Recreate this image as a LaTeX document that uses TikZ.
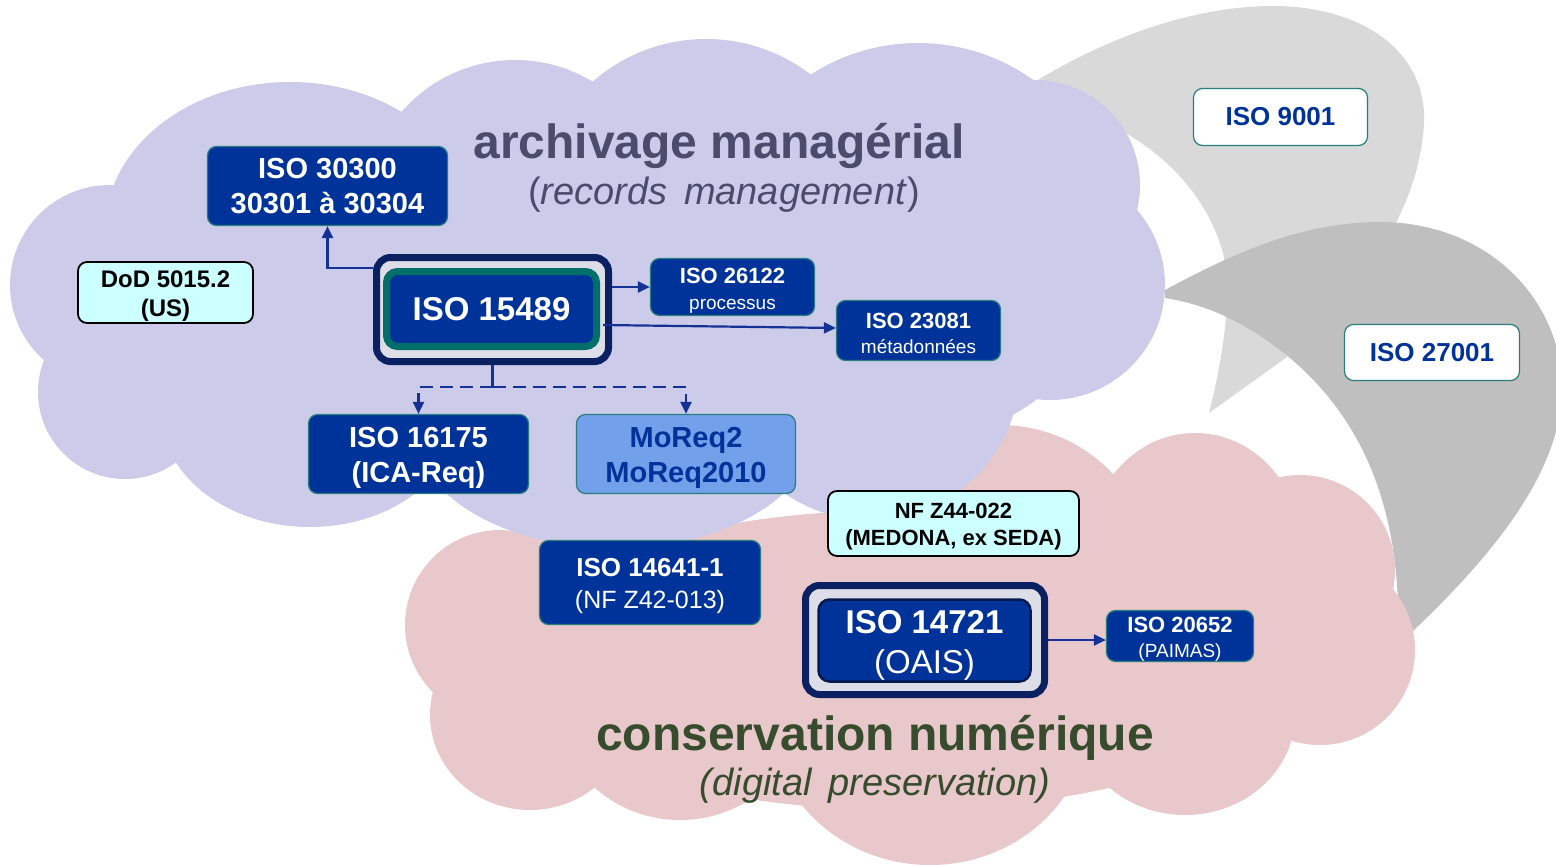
\documentclass[tikz,border=0pt]{standalone}
\usepackage{fontspec}
\setmainfont{Liberation Sans}
\usetikzlibrary{positioning,arrows,arrows.meta}

\definecolor{cloudpurple}{RGB}{204,204,234}
\definecolor{cloudpink}{RGB}{232,200,202}
\definecolor{greylight}{RGB}{217,217,217}
\definecolor{greydark}{RGB}{191,191,191}
\definecolor{isoblue}{RGB}{0,51,153}
\definecolor{isoteal}{RGB}{40,125,125}
\definecolor{framenavy}{RGB}{10,32,96}
\definecolor{framegrey}{RGB}{222,222,232}
\definecolor{coreteal}{RGB}{0,110,105}
\definecolor{palecyan}{RGB}{204,255,255}
\definecolor{moreqblue}{RGB}{115,160,235}
\definecolor{titlegrey}{RGB}{75,75,110}
\definecolor{titlegreen}{RGB}{55,75,45}
\definecolor{linkblue}{RGB}{20,50,150}
\newcommand{\topstrut}{\rule{0pt}{1em}}

\begin{document}
\begin{tikzpicture}[x=1pt, y=-1pt,
  isobox/.style={draw=isoteal, line width=1.2pt, fill=isoblue, text=white,
    rounded corners=9pt, inner sep=0pt, align=center},
  cyanbox/.style={draw=black, line width=1.8pt, fill=palecyan, text=black,
    rounded corners=9pt, inner sep=0pt, align=center},
  whitebox/.style={draw=isoteal, line width=1.2pt, fill=white, text=isoblue,
    rounded corners=9pt, inner sep=0pt, font=\bfseries\fontsize{26}{30}\selectfont},
  framebox/.style={draw=framenavy, line width=7pt, fill=framegrey,
    rounded corners=14pt, inner sep=0pt},
  link/.style={draw=linkblue, line width=2.2pt, -{Triangle[length=12pt,width=11pt]}}
]
\useasboundingbox (0,0) rectangle (1556,865);

% grey bubbles behind
\fill[greylight] (1025,88) .. controls (1100,40) and (1190,6) .. (1273,6)
  .. controls (1360,6) and (1428,50) .. (1424,125)
  .. controls (1420,175) and (1405,205) .. (1390,235) -- (1287,357) -- (1209,413)
  .. controls (1225,350) and (1232,290) .. (1223,253)
  .. controls (1200,170) and (1120,115) .. (1035,100) -- cycle;
\fill[greydark] (1165,290) .. controls (1230,255) and (1300,222) .. (1380,222)
  .. controls (1480,222) and (1556,290) .. (1562,380)
  .. controls (1566,470) and (1490,560) .. (1398,645)
  .. controls (1402,530) and (1375,430) .. (1290,358)
  .. controls (1250,325) and (1210,305) .. (1165,298) -- cycle;

% conservation numerique cloud
\foreach \cx/\cy/\rx/\ry in {1195/545/105pt/112pt, 1000/580/155pt/155pt,
    1300/570/95pt/95pt, 1320/650/95pt/95pt, 1185/715/110pt/100pt,
    930/715/160pt/150pt, 680/700/125pt/120pt, 530/715/100pt/95pt,
    500/625/95pt/95pt, 610/600/120pt/110pt, 900/660/400pt/150pt}
  \fill[cloudpink] (\cx,\cy) ellipse[x radius=\rx, y radius=\ry];

% archivage managerial cloud
\foreach \cx/\cy/\rx/\ry in {110/285/100pt/100pt, 125/392/87pt/87pt,
    310/410/150pt/117pt, 615/430/200pt/118pt, 870/370/150pt/150pt,
    1050/285/115pt/115pt, 1035/185/105pt/105pt, 918/241/198pt/198pt,
    706/211/172pt/172pt, 515/210/150pt/150pt, 290/230/185pt/148pt,
    600/300/460pt/190pt}
  \fill[cloudpurple] (\cx,\cy) ellipse[x radius=\rx, y radius=\ry];

% titles
\node[anchor=base, text=titlegrey, font=\bfseries\fontsize{48}{58}\selectfont]
  (rmtitle) at (719,158) {archivage managérial};
\node[anchor=base, text=titlegrey, font=\fontsize{38}{46}\selectfont]
  (rmsub) at (724,204) {(\textit{records\hspace{6pt} management})};
\node[anchor=base, text=titlegreen, font=\bfseries\fontsize{48}{58}\selectfont]
  (dptitle) at (875,750) {conservation numérique};
\node[anchor=base, text=titlegreen, font=\itshape\fontsize{38}{46}\selectfont]
  (dpsub) at (875,795) {(digital\hspace{6pt} preservation)};

% records management boxes
\node[isobox, minimum width=240pt, minimum height=79pt,
  font=\bfseries\fontsize{29}{35}\selectfont] (iso30300) at (327.5,186)
  {ISO 30300\\30301 à 30304};
\node[cyanbox, minimum width=175pt, minimum height=61pt,
  font=\bfseries\fontsize{24}{29}\selectfont] (dod) at (165.5,292.5)
  {\topstrut DoD 5015.2\\(US)};
\node[framebox, minimum width=232pt, minimum height=104pt] (iso15489) at (492.5,309.5) {};
\node[draw=coreteal, line width=7pt, fill=isoblue, rounded corners=11pt,
  minimum width=210pt, minimum height=75pt, inner sep=0pt, text=white,
  font=\bfseries\fontsize{33}{40}\selectfont] (iso15489core) at (491.5,309) {ISO 15489};
\node[isobox, minimum width=164pt, minimum height=57pt,
  font=\fontsize{22}{26}\selectfont] (iso26122) at (732.5,287)
  {\topstrut\textbf{ISO 26122}\\{\fontsize{19}{23}\selectfont processus}};
\node[isobox, minimum width=164pt, minimum height=60pt,
  font=\fontsize{22}{25}\selectfont] (iso23081) at (918.5,330.5)
  {\topstrut\textbf{ISO 23081}\\{\fontsize{19}{23}\selectfont métadonnées}};
\node[isobox, minimum width=220pt, minimum height=79pt,
  font=\bfseries\fontsize{29}{35}\selectfont] (iso16175) at (418.5,454)
  {\topstrut ISO 16175\\(ICA-Req)};
\node[isobox, fill=moreqblue, text=isoblue, minimum width=219pt, minimum height=79pt,
  font=\bfseries\fontsize{29}{35}\selectfont] (moreq) at (686,454)
  {\topstrut MoReq2\\MoReq2010};

% digital preservation boxes
\node[cyanbox, minimum width=251pt, minimum height=65pt,
  font=\bfseries\fontsize{22}{27}\selectfont] (nfz44) at (953.5,523.5)
  {\topstrut NF Z44-022\\(MEDONA, ex SEDA)};
\node[isobox, minimum width=221pt, minimum height=84pt,
  font=\fontsize{26}{32}\selectfont] (iso14641) at (650,582.5)
  {\topstrut\textbf{ISO 14641-1}\\{\fontsize{25}{30}\selectfont (NF Z42-013)}};
\node[framebox, minimum width=239pt, minimum height=109pt] (iso14721) at (925,640) {};
\node[draw=framenavy!80!black, line width=2.5pt, fill=isoblue, rounded corners=11pt,
  minimum width=212pt, minimum height=82pt, inner sep=0pt, text=white, align=center,
  font=\fontsize{33}{40}\selectfont] (iso14721core) at (924.5,640.5)
  {\topstrut\textbf{ISO 14721}\\(OAIS)};
\node[isobox, minimum width=147pt, minimum height=47pt,
  font=\fontsize{22}{25}\selectfont] (iso20652) at (1180,636)
  {\topstrut\textbf{ISO 20652}\\{\fontsize{19}{22}\selectfont (PAIMAS)}};

% grey bubbles
\node[whitebox, minimum width=174pt, minimum height=57pt] (iso9001) at (1280.5,117) {ISO 9001};
\node[whitebox, minimum width=175pt, minimum height=56pt] (iso27001) at (1432,352.5) {ISO 27001};

% links
\draw[link] ([yshift=41.5pt]iso15489.west) -| (iso30300.south);
\draw[link] (iso15489.east |- iso26122.west) -- (iso26122.west);
\draw[link] ([xshift=-9pt,yshift=-15.5pt]iso15489.east) -- ([yshift=2.5pt]iso23081.west);
\draw[draw=linkblue, line width=2.2pt] (iso15489.south) -- ++(0,22) coordinate (fork);
\draw[link, dash pattern=on 13pt off 7pt] (fork) -| (iso16175.north);
\draw[link, dash pattern=on 13pt off 7pt] (fork) -| (moreq.north);
\draw[link] (iso14721.east) -- (iso14721.east -| iso20652.west);
\end{tikzpicture}
\end{document}
